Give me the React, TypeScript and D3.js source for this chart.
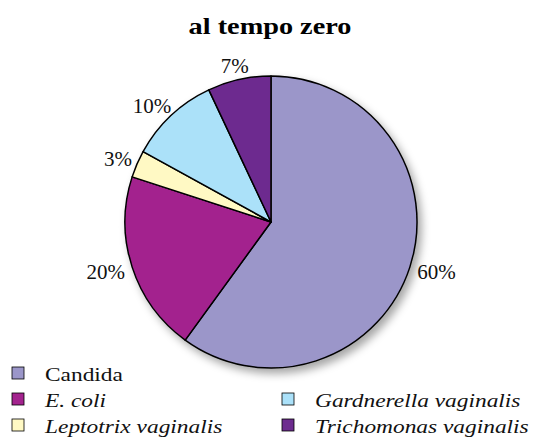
import React from "react";
import * as d3 from "d3";

const categories = [
  "Candida",
  "E. coli",
  "Leptotrix vaginalis",
  "Gardnerella vaginalis",
  "Trichomonas vaginalis",
];
const values = [60, 20, 3, 10, 7];
const colors = ["#9b96c9", "#a3238e", "#fff9c4", "#abe1f9", "#6d2c8f"];
const italic = [false, true, true, true, true];

// legend slots (col, row) in the order the reference shows them
const legendSlots: [number, number][] = [
  [0, 0],
  [0, 1],
  [0, 2],
  [1, 1],
  [1, 2],
];

const W = 534;
const H = 446;

export default function App() {
  const cx = 271;
  const cy = 222;
  const r = 146;

  const pie = d3
    .pie<number>()
    .sort(null)
    .value((d) => d);
  const arcs = pie(values);
  const arc = d3.arc<d3.PieArcDatum<number>>().innerRadius(0).outerRadius(r);

  const total = d3.sum(values);
  const fmt = (v: number) => `${Math.round((v / total) * 100)}%`;

  // label: anchor just outside the edge, push text box outward by its half size
  const labelPos = (a: d3.PieArcDatum<number>, text: string) => {
    const mid = (a.startAngle + a.endAngle) / 2;
    const sx = Math.sin(mid);
    const sy = -Math.cos(mid);
    const gap = 6;
    const hw = text.length * 7.3;
    const hh = 8;
    return {
      x: (r + gap) * sx + hw * sx,
      y: (r + gap) * sy + hh * sy,
    };
  };

  const colX = [12, 282];
  const rowY = [381, 407, 433];

  return (
    <svg width={W} height={H} style={{ position: "absolute", left: 0, top: 0 }}>
      <defs>
        <filter id="shadow" x="-20%" y="-20%" width="140%" height="140%">
          <feDropShadow dx="4" dy="5" stdDeviation="4" floodColor="#000" floodOpacity="0.35" />
        </filter>
      </defs>
      <rect width={W} height={H} fill="#fff" />
      <g transform={`translate(270,34) scale(1.23,1)`}>
        <text
          textAnchor="middle"
          fontFamily="Liberation Serif"
          fontWeight="bold"
          fontSize={23}
          fill="#000"
        >
          al tempo zero
        </text>
      </g>
      <g transform={`translate(${cx},${cy})`}>
        <g filter="url(#shadow)">
          {arcs.map((a, i) => (
            <path key={i} d={arc(a) || ""} fill={colors[i]} stroke="#000" strokeWidth={1.5} strokeLinejoin="round" />
          ))}
        </g>
        {arcs.map((a, i) => {
          const t = fmt(values[i]);
          const p = labelPos(a, t);
          return (
            <text
              key={i}
              x={p.x}
              y={p.y}
              dy="0.35em"
              textAnchor="middle"
              fontFamily="Liberation Serif"
              fontSize={21}
              fill="#111"
            >
              {t}
            </text>
          );
        })}
      </g>
      {categories.map((c, i) => {
        const [col, row] = legendSlots[i];
        const x = colX[col];
        const y = rowY[row];
        return (
          <g key={c}>
            <rect x={x} y={y - 14} width={12} height={12} fill={colors[i]} stroke="#000" strokeWidth={0.8} />
            <g transform={`translate(${x + 33},${y}) scale(1.3,1)`}>
              <text
                fontFamily="Liberation Serif"
                fontStyle={italic[i] ? "italic" : "normal"}
                fontSize={18}
                fill="#111"
              >
                {c}
              </text>
            </g>
          </g>
        );
      })}
    </svg>
  );
}
